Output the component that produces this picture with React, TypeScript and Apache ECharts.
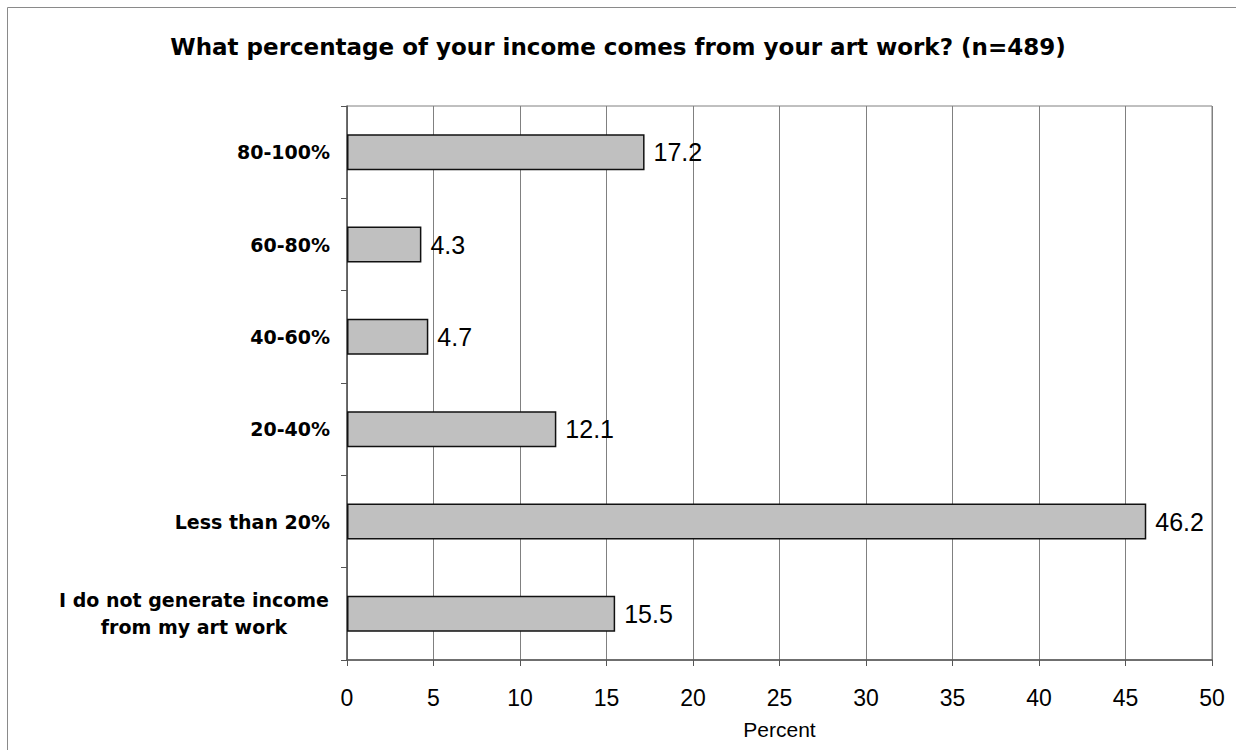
import React, { useEffect, useRef } from "react";
import * as echarts from "echarts";

const categories = [
  "80-100%",
  "60-80%",
  "40-60%",
  "20-40%",
  "Less than 20%",
  "I do not generate income\nfrom my art work",
];
const values = [17.2, 4.3, 4.7, 12.1, 46.2, 15.5];
const xTicks = { min: 0, max: 50, interval: 5 };
const titleText = "What percentage of your income comes from your art work? (n=489)";
const xAxisName = "Percent";

const FONT = "'Liberation Sans', Arial, Helvetica, sans-serif";
const BOLDFONT = "'DejaVu Sans', 'Liberation Sans', Arial, sans-serif";

export default function App() {
  const ref = useRef<HTMLDivElement>(null);
  useEffect(() => {
    if (!ref.current) return;
    const chart = echarts.init(ref.current, undefined, { renderer: "svg" });
    chart.setOption({
      animation: false,
      backgroundColor: "#ffffff",
      textStyle: { fontFamily: FONT },
      title: {
        text: titleText,
        left: "center",
        top: 30,
        textStyle: { fontFamily: BOLDFONT, fontSize: 23, fontWeight: "bold", color: "#000" },
      },
      graphic: [
        {
          type: "rect",
          shape: { x: 7.5, y: 7.5, width: 1400, height: 900 },
          style: { fill: "none", stroke: "#8a8a8a", lineWidth: 1 },
          silent: true,
          z: -1,
        },
      ],
      grid: {
        left: 347,
        right: 24,
        top: 106,
        bottom: 90,
        show: true,
        borderColor: "#808080",
        borderWidth: 1,
        backgroundColor: "transparent",
      },
      xAxis: {
        type: "value",
        min: xTicks.min,
        max: xTicks.max,
        interval: xTicks.interval,
        name: xAxisName,
        nameLocation: "middle",
        nameGap: 59,
        nameTextStyle: { fontFamily: FONT, fontSize: 21, color: "#000" },
        axisLine: { show: true, lineStyle: { color: "#555", width: 1.5 } },
        axisTick: { show: true, length: 6, lineStyle: { color: "#555" } },
        axisLabel: { fontFamily: FONT, fontSize: 23, color: "#000", margin: 26 },
        splitLine: { show: true, lineStyle: { color: "#808080", width: 1 } },
      },
      yAxis: {
        type: "category",
        data: categories,
        inverse: true,
        axisLine: { show: true, lineStyle: { color: "#555", width: 1.5 } },
        axisTick: { show: true, length: 6, lineStyle: { color: "#555" } },
        axisLabel: {
          margin: 17,
          color: "#000",
          fontFamily: BOLDFONT,
          fontSize: 19,
          fontWeight: "bold",
          formatter: (v: string) => {
            if (v.indexOf("\n") >= 0) {
              return v
                .split("\n")
                .map((s) => "{c|" + s + "}")
                .join("\n");
            }
            return v;
          },
          rich: {
            c: {
              width: 272,
              align: "center",
              fontFamily: BOLDFONT,
              fontSize: 19,
              fontWeight: "bold",
              color: "#000",
              lineHeight: 27,
            },
          },
        },
        splitLine: { show: false },
      },
      series: [
        {
          type: "bar",
          data: values,
          barWidth: 36,
          itemStyle: { color: "#c0c0c0", borderColor: "#111", borderWidth: 1.5 },
          label: {
            show: true,
            position: "right",
            distance: 9,
            fontFamily: FONT,
            fontSize: 25,
            color: "#000",
          },
        },
      ],
    });
    return () => chart.dispose();
  }, []);
  return (
    <div
      ref={ref}
      style={{ position: "fixed", left: 0, top: 0, width: 1236, height: 750 }}
    />
  );
}
